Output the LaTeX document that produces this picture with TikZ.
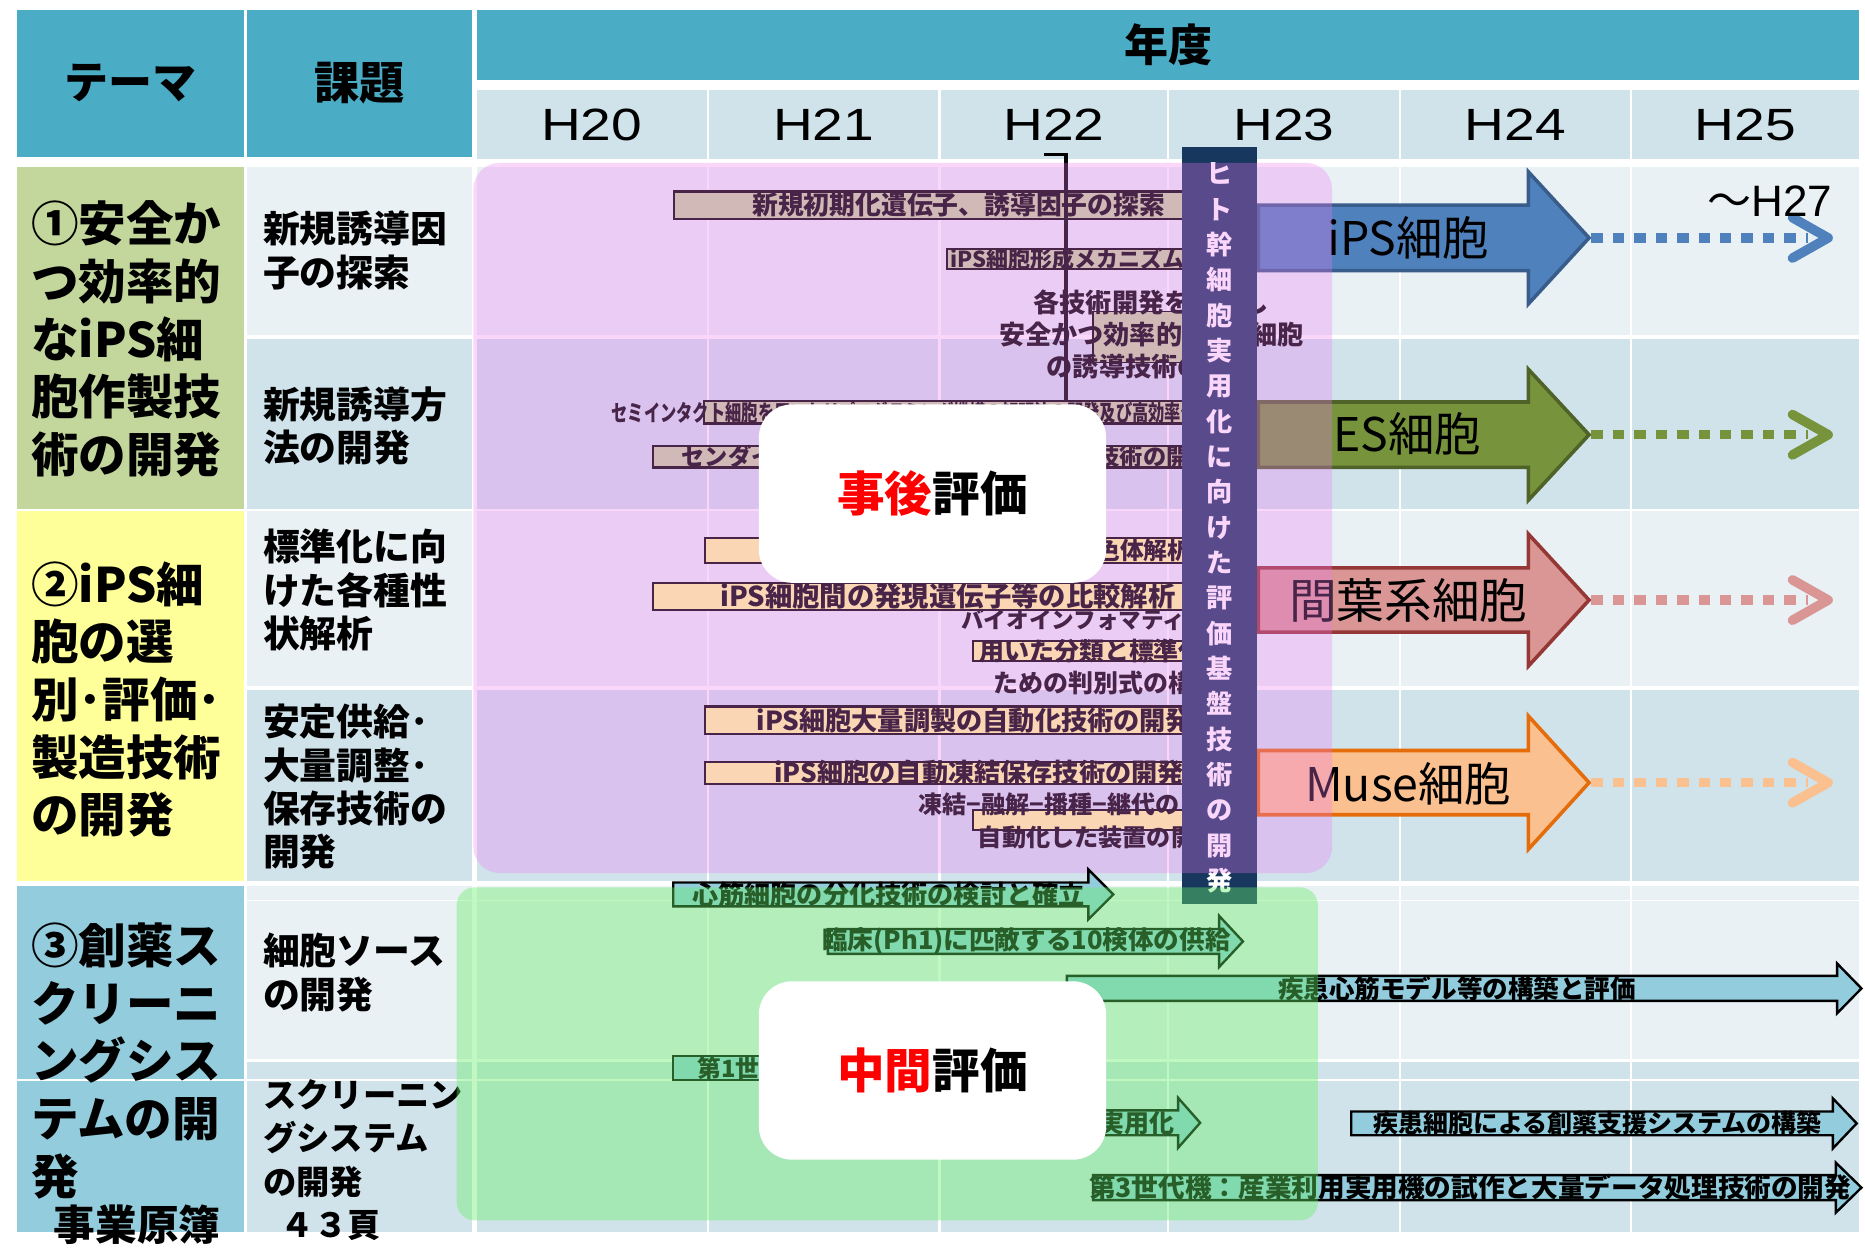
\documentclass[tikz,border=0pt]{standalone}
\usepackage{fontspec}
\usepackage{graphicx}
\setmainfont{Noto Sans CJK JP}
\newfontfamily\arialf{Liberation Sans}
\newcommand\fs[2]{\fontsize{#1}{#2}\selectfont}
\definecolor{hdrc}{HTML}{4BACC6}
\definecolor{cellL}{HTML}{E9F1F5}
\definecolor{cellD}{HTML}{D0E3EA}
\definecolor{thA}{HTML}{C3D69B}
\definecolor{thB}{HTML}{FFFF99}
\definecolor{thC}{HTML}{93CDDD}
\definecolor{pinkov}{RGB}{240,120,245}
\definecolor{greenov}{RGB}{102,238,102}
\definecolor{navyc}{HTML}{17375E}
\definecolor{ipsF}{HTML}{4F81BD}\definecolor{ipsD}{HTML}{385D8A}
\definecolor{esF}{HTML}{77933C}\definecolor{esD}{HTML}{4F6228}
\definecolor{mesF}{HTML}{D99694}\definecolor{mesD}{HTML}{953735}
\definecolor{museF}{HTML}{FAC090}\definecolor{museD}{HTML}{E46C0A}
\newcommand\hArrowShape[7]{\draw[#1] (#2,#4-#5) -- (#3-#7,#4-#5) -- (#3-#7,#4-#6) -- (#3,#4) -- (#3-#7,#4+#6) -- (#3-#7,#4+#5) -- (#2,#4+#5) -- cycle;}
\tikzset{
  hdr/.style={font=\bfseries\fs{37}{40}},
  theme/.style={anchor=west, align=left, font=\bfseries\fs{40}{48.5}},
  subj/.style={anchor=west, align=left, font=\bfseries\fs{31}{36.5}},
  yr/.style={font=\arialf\fs{38}{40}},
  barA/.style={fill=thA, draw=black, line width=1.8pt},
  barB/.style={fill=thB, draw=black, line width=1.8pt},
  arrC/.style={fill=thC, draw=black, line width=2pt},
  btxt/.style={font=\bfseries\fs{21}{24}},
  bigtxt/.style={font=\fs{39}{42}},
  dotl/.style={line width=8pt, dash pattern=on 9.6pt off 8.4pt},
  chev/.style={line width=8pt, line cap=round, line join=round},
  evalbox/.style={fill=white, rounded corners=28pt, minimum width=292pt, minimum height=150pt, font=\bfseries\fs{40}{44}},
  whl/.style={white, line width=1.5pt}
}
\begin{document}
\begin{tikzpicture}[x=1pt,y=-1pt, every node/.style={inner sep=0pt}]
\useasboundingbox (0,0) rectangle (1568,1049);
\fill[white] (0,0) rectangle (1568,1049);
% header
\fill[hdrc] (14,8) rectangle (205,132);
\fill[hdrc] (208,8) rectangle (397,132);
\fill[hdrc] (401,8) rectangle (1563,67);
\node[hdr] (hTheme) at (109.5,70) {テーマ};
\node[hdr, font=\bfseries\fs{38}{40}] (hKadai) at (302.5,70) {課題};
\node[hdr] (hNendo) at (982,38) {年度};
% grid
\foreach \xa/\xb in {401/594,596/789,791/981,983/1176,1178/1370,1372/1563}{
  \fill[cellD] (\xa,76) rectangle (\xb,134);
  \foreach \ya/\yb/\cc in {140/282/cellL,285/428/cellD,430/577/cellL,580/741/cellD,745/890/cellL,893/1036/cellD}{
    \fill[\cc] (\xa,\ya) rectangle (\xb,\yb);}
}
\node[yr] (h20) at (497.5,105) {\scalebox{1.22}[1]{H20}};
\node[yr] (h21) at (692.5,105) {\scalebox{1.22}[1]{H21}};
\node[yr] (h22) at (886,105) {\scalebox{1.22}[1]{H22}};
\node[yr] (h23) at (1079.5,105) {\scalebox{1.22}[1]{H23}};
\node[yr] (h24) at (1274,105) {\scalebox{1.22}[1]{H24}};
\node[yr] (h25) at (1467.5,105) {\scalebox{1.22}[1]{H25}};
% subject cells
\fill[cellL] (208,140) rectangle (397,282);
\fill[cellD] (208,285) rectangle (397,428);
\fill[cellL] (208,430) rectangle (397,577);
\fill[cellD] (208,580) rectangle (397,741);
\fill[cellL] (208,745) rectangle (397,890);
\fill[cellD] (208,893) rectangle (397,1036);
% theme cells
\fill[thA] (14,140) rectangle (205,428);
\fill[thB] (14,430) rectangle (205,741);
\fill[thC] (14,745) rectangle (205,1036);
\draw[whl] (208,757) -- (1563,757);
\draw[whl] (14,908) -- (1563,908);
% theme texts
\node[theme] (th1) at (26,285) {①安全か\\つ効率的\\なiPS細\\胞作製技\\術の開発};
\node[theme] (th2) at (26,588) {②iPS細\\胞の選\\別･評価･\\製造技術\\の開発};
\node[theme] (th3) at (26,892) {③創薬ス\\クリーニ\\ングシス\\テムの開\\発};
\node[anchor=west, font=\bfseries\fs{35}{38}] (genbo) at (45,1030) {事業原簿};
\node[anchor=west, font=\bfseries\fs{28}{30}] (page) at (236,1030) {４３頁};
% subject texts
\node[subj] (s1) at (221,210.5) {新規誘導因\\子の探索};
\node[subj] (s2) at (221,358) {新規誘導方\\法の開発};
\node[subj] (s3) at (221,496) {標準化に向\\けた各種性\\状解析};
\node[subj] (s4) at (221,661.5) {安定供給･\\大量調整･\\保存技術の\\開発};
\node[subj] (s5) at (221,817.5) {細胞ソース\\の開発};
\node[subj, font=\bfseries\fs{28}{36.5}] (s6) at (221,957) {スクリーニン\\グシステム\\の開発};
% ---- bars in the pink area
\draw[barA] (567,161) rectangle (995,184);
\node[btxt, font=\bfseries\fs{21.7}{24}] (b1) at (806,172.5) {新規初期化遺伝子、誘導因子の探索};
\draw[barA] (796,209) rectangle (995,226);
\node[btxt, anchor=west, font=\bfseries\fs{18.5}{20}] (b2) at (799,217.5) {iPS細胞形成メカニズムの解明};
\draw[barA, line width=1pt] (919,262) rectangle (995,305);
\node[btxt, align=center, font=\bfseries\fs{22}{27}] (b3) at (968,281) {各技術開発を統合し\\安全かつ効率的なiPS細胞\\の誘導技術の確立};
\coordinate (hookL) at (878,130);
\coordinate (hookB) at (896,336);
\draw[line width=3pt] (hookL) -- (hookL -| hookB) -- (hookB);
\draw[barA] (592,337) rectangle (995,356);
\node[btxt, anchor=west, font=\bfseries\fs{19}{20}] (b4) at (514,347) {\scalebox{0.72}[1]{セミインタクト細胞を用いたリプログラミング機構の解明法の開発及び高効率化}};
\draw[barA] (549,375) rectangle (995,393);
\node[btxt, anchor=west, font=\bfseries\fs{19.5}{20}] (b5) at (573,384) {センダイウイルスベクターを用いた誘導技術の開発};
\draw[barB] (593,452) rectangle (995,473);
\node[btxt, anchor=east, font=\bfseries\fs{20}{22}] (b6) at (1002,462.5) {iPS細胞のエピゲノム・染色体解析};
\draw[barB] (549,490) rectangle (995,513);
\node[btxt, font=\bfseries\fs{23}{26}] (b7) at (797,501.5) {iPS細胞間の発現遺伝子等の比較解析};
\node[btxt, anchor=west, font=\bfseries\fs{19}{22}] (b8a) at (808,521) {バイオインフォマティクスを};
\draw[barB] (818,539) rectangle (995,556);
\node[btxt, anchor=west, font=\bfseries\fs{21}{22}] (b8b) at (823,547.5) {用いた分類と標準化の};
\node[btxt, anchor=west, font=\bfseries\fs{21}{22}] (b8c) at (835,574) {ための判別式の構築};
\draw[barB] (593,594) rectangle (995,617);
\node[btxt, anchor=west, font=\bfseries\fs{22}{24}] (b9) at (636,605.5) {iPS細胞大量調製の自動化技術の開発};
\draw[barB] (593,641) rectangle (995,659);
\node[btxt, anchor=west, font=\bfseries\fs{22}{24}] (b10) at (651,650) {iPS細胞の自動凍結保存技術の開発};
\draw[barB] (818,681) rectangle (995,698);
\node[btxt, anchor=west, font=\bfseries\fs{20.3}{22}] (b11a) at (772,676) {凍結−融解−播種−継代の};
\node[btxt, anchor=west, font=\bfseries\fs{20.3}{22}] (b11b) at (822,704) {自動化した装置の開発};
% ---- big arrows
\hArrowShape{fill=ipsF, draw=ipsD, line width=3pt}{1058}{1336}{200}{27.5}{55.5}{51}
\hArrowShape{fill=esF, draw=esD, line width=3pt}{1058}{1336}{365.5}{27.5}{55}{51}
\hArrowShape{fill=mesF, draw=mesD, line width=3pt}{1058}{1336}{504.5}{27}{55.5}{51}
\hArrowShape{fill=museF, draw=museD, line width=3pt}{1058}{1336}{658}{27}{56}{51}
\node[bigtxt] (aIPS) at (1184,200) {iPS細胞};
\node[bigtxt] (aES) at (1183,365) {ES細胞};
\node[bigtxt, font=\fs{40}{42}] (aMES) at (1184,505) {間葉系細胞};
\node[bigtxt] (aMUSE) at (1184,659) {Muse細胞};
% ---- vertical bar
\fill[navyc] (994,124) rectangle (1057,760);
\node[align=center, text=white, font=\bfseries\fs{22}{29.7}] (vbar) at (1025.5,444) {ヒ\\ト\\幹\\細\\胞\\実\\用\\化\\に\\向\\け\\た\\評\\価\\基\\盤\\技\\術\\の\\開\\発};
% ---- pink overlay
\fill[pinkov, fill opacity=0.3, rounded corners=22pt] (398,137) rectangle (1120,734);
% ---- green area arrows
\hArrowShape{arrC}{566}{936}{752}{10}{21}{21}
\node[btxt, font=\bfseries\fs{22}{24}] (g1) at (747,752) {心筋細胞の分化技術の検討と確立};
\hArrowShape{arrC}{696}{1045}{791.5}{10.5}{21.5}{20}
\node[btxt, font=\bfseries\fs{21.5}{24}] (g2) at (863,791.5) {臨床(Ph1)に匹敵する10検体の供給};
\hArrowShape{arrC}{897}{1565}{831}{10.5}{21}{20.5}
\node[btxt, font=\bfseries\fs{21.5}{24}] (g3) at (1225,831) {疾患心筋モデル等の構築と評価};
\draw[arrC] (566,888) rectangle (905,908);
\node[btxt, anchor=west, font=\bfseries\fs{20}{22}] (g4) at (586,898) {第1世代機：プロトタイプの試作};
\hArrowShape{arrC}{700}{1009}{944}{10.5}{21}{18.5}
\node[btxt, anchor=east, font=\bfseries\fs{21}{24}] (g5) at (988,944) {第2世代機：創薬用装置の実用化};
\hArrowShape{arrC}{1136}{1561}{944.5}{10}{21}{20}
\node[btxt, font=\bfseries\fs{21}{24}] (g6) at (1343,944.5) {疾患細胞による創薬支援システムの構築};
\hArrowShape{arrC}{919}{1565}{998.5}{10.5}{21}{21.5}
\node[btxt, font=\bfseries\fs{22.4}{24}] (g7) at (1236,998.5) {第3世代機：産業利用実用機の試作と大量データ処理技術の開発};
% ---- green overlay
\fill[greenov, fill opacity=0.4, rounded corners=15pt] (384,746) rectangle (1108,1026);
% ---- evaluation boxes
\node[evalbox] (jigo) at (784,415) {\textcolor{red}{事後}評価};
\node[evalbox] (chukan) at (784,900) {\textcolor{red}{中間}評価};
% ---- dotted continuations
\coordinate (tipI) at (1338,200); \coordinate (endI) at (1537,200);
\coordinate (tipE) at (1338,365.5); \coordinate (endE) at (1537,365.5);
\coordinate (tipM) at (1338,504.5); \coordinate (endM) at (1537,504.5);
\coordinate (tipU) at (1338,658); \coordinate (endU) at (1537,658);
\draw[dotl, ipsF] (tipI) -- ++(182,0);
\draw[chev, ipsF] (endI) ++(-30,-17) -- (endI) -- ++(-30,17);
\draw[dotl, esF] (tipE) -- ++(182,0);
\draw[chev, esF] (endE) ++(-30,-17) -- (endE) -- ++(-30,17);
\draw[dotl, mesF] (tipM) -- ++(182,0);
\draw[chev, mesF] (endM) ++(-30,-17) -- (endM) -- ++(-30,17);
\draw[dotl, museF] (tipU) -- ++(182,0);
\draw[chev, museF] (endU) ++(-30,-17) -- (endU) -- ++(-30,17);
\node[font=\fs{37}{40}] (h27) at (1488,169) {～\arialf H27};
\end{tikzpicture}
\end{document}
